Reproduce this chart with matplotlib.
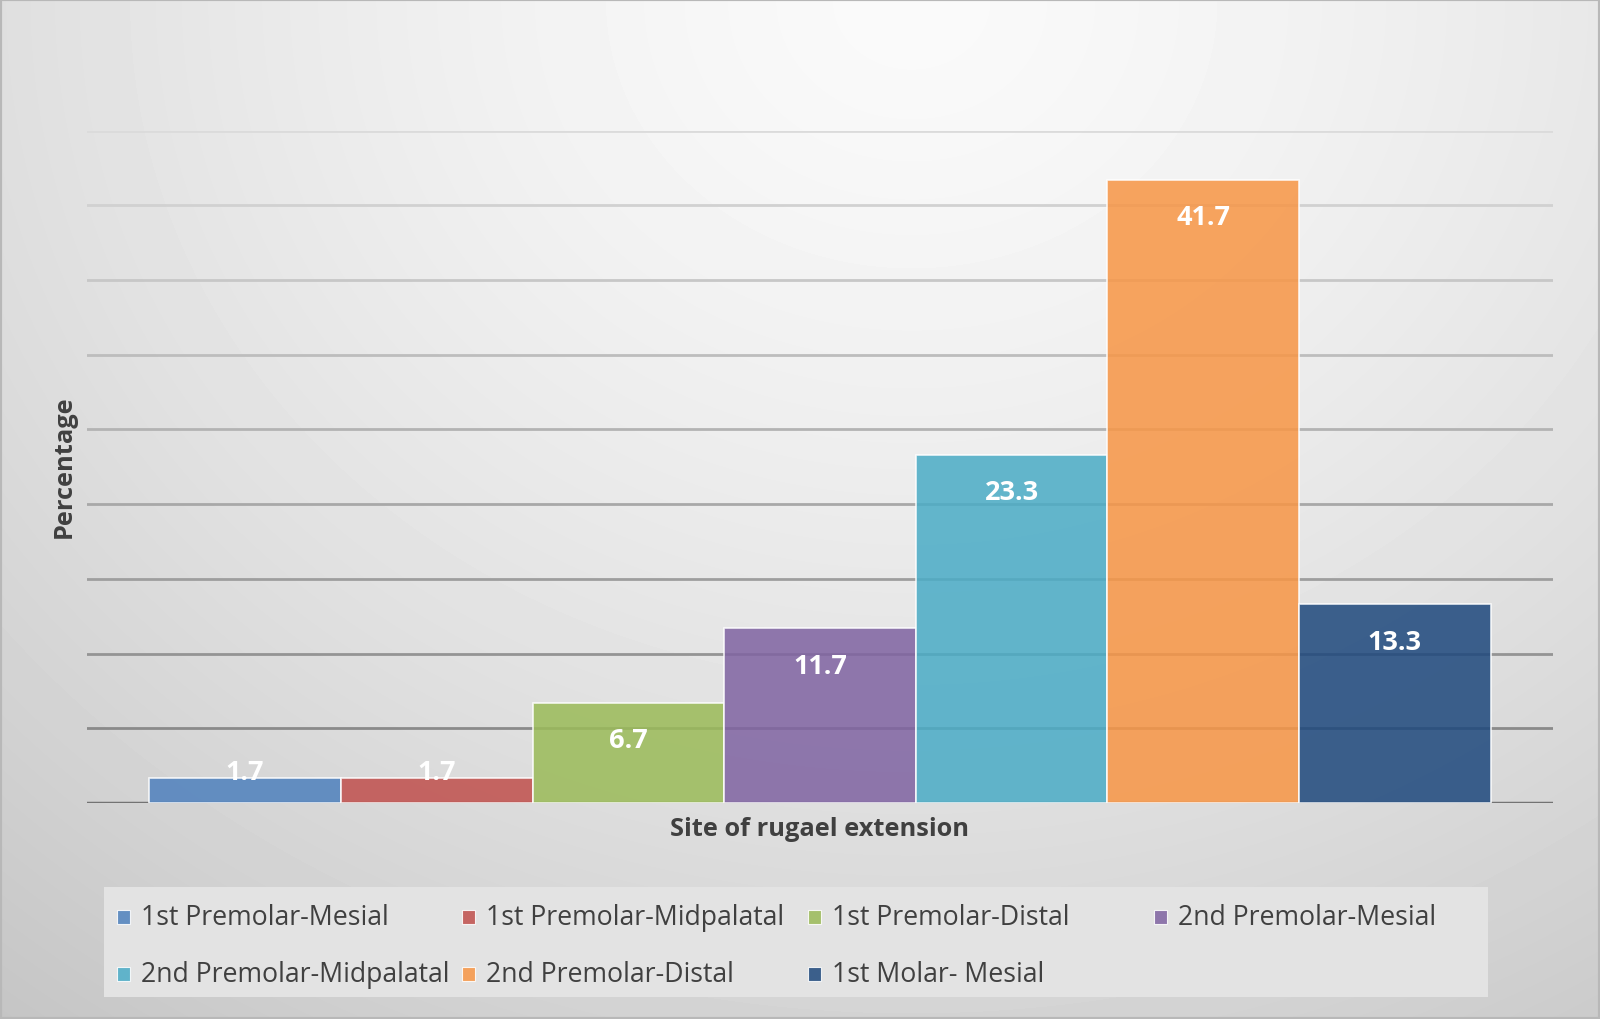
import numpy as np
import matplotlib.pyplot as plt
from matplotlib.patches import Rectangle

# data
sites = ["1st Premolar-Mesial", "1st Premolar-Midpalatal", "1st Premolar-Distal",
         "2nd Premolar-Mesial", "2nd Premolar-Midpalatal", "2nd Premolar-Distal",
         "1st Molar- Mesial"]
percent = [1.7, 1.7, 6.7, 11.7, 23.3, 41.7, 13.3]
colors = ["#4F81BD", "#C0504D", "#9BBB59", "#8064A2", "#4BACC6", "#F79646", "#1F497D"]

plt.rcParams["font.family"] = ["Open Sans", "DejaVu Sans"]

W, H = 1600, 1020
fig = plt.figure(figsize=(W / 100, H / 100), dpi=100)

# ------------------------------------------------------------
# radial gray background, light at the top centre
# ------------------------------------------------------------
bg = fig.add_axes([0, 0, 1, 1], zorder=-10)
yy, xx = np.mgrid[0:1:300j, 0:1:470j]
r = np.sqrt(((xx - 0.57) / 0.8) ** 2 + (yy / 1.1) ** 2)
shade = 0.98 - 0.17 * r ** 1.4
bg.imshow(shade, cmap="gray", vmin=0, vmax=1, aspect="auto",
          extent=[0, 1, 1, 0], interpolation="bilinear")
bg.set_xlim(0, 1)
bg.set_ylim(1, 0)
bg.axis("off")
fig.patches.append(Rectangle((0, 0), 1, 1, transform=fig.transFigure,
                             fill=False, edgecolor="#b8b8b8", linewidth=3))

# ------------------------------------------------------------
# bars
# ------------------------------------------------------------
ax = fig.add_axes([87 / W, 1 - 804 / H, (1553 - 87) / W, (804 - 131.6) / H])
ax.set_facecolor("none")

for g in range(5, 50, 5):
    level = 0.50 + 0.36 * (g / 45)
    ax.axhline(g, color=(level, level, level), linewidth=2, zorder=1)
ax.axhline(0, color="#737373", linewidth=2.5, zorder=2)

for i, (val, col) in enumerate(zip(percent, colors)):
    ax.bar(i, val, width=1, color=col, alpha=0.86,
           edgecolor=(1, 1, 1, 0.7), linewidth=1.2, zorder=3)
    ax.text(i, max(val - 2.5, 2.05), f"{val}", ha="center", va="center",
            color="white", fontsize=19.5, fontweight="bold", zorder=4)

ax.set_xlim(-0.825, 6.825)
ax.set_ylim(0, 45)
ax.set_xticks([])
ax.set_yticks([])
for s in ax.spines.values():
    s.set_visible(False)

fig.text(64 / W, 1 - 467 / H, "Percentage", rotation=90, ha="center", va="center",
         fontsize=18.3, fontweight="bold", color="#404040")
fig.text(819 / W, 1 - 830 / H, "Site of rugael extension", ha="center", va="center",
         fontsize=18.3, fontweight="bold", color="#404040")

# ------------------------------------------------------------
# legend (4 columns, 2 rows)
# ------------------------------------------------------------
fig.patches.append(Rectangle((104 / W, 1 - 998 / H), (1488 - 104) / W, (998 - 888) / H,
                             transform=fig.transFigure, facecolor="#e3e3e3",
                             edgecolor="none", zorder=1))
col_x = [117, 462, 808, 1154]
row_y = [918, 975]
for k, (name, col) in enumerate(zip(sites, colors)):
    x0 = col_x[k % 4]
    y0 = row_y[k // 4]
    fig.patches.append(Rectangle((x0 / W, 1 - (y0 + 7) / H), 13 / W, 14 / H,
                                 transform=fig.transFigure, facecolor=col, alpha=0.86,
                                 edgecolor="white", linewidth=0.8, zorder=2))
    fig.text((x0 + 24) / W, 1 - y0 / H, name, ha="left", va="center",
             fontsize=19.2, color="#404040", zorder=3)

fig.savefig("out.png", dpi=100)
